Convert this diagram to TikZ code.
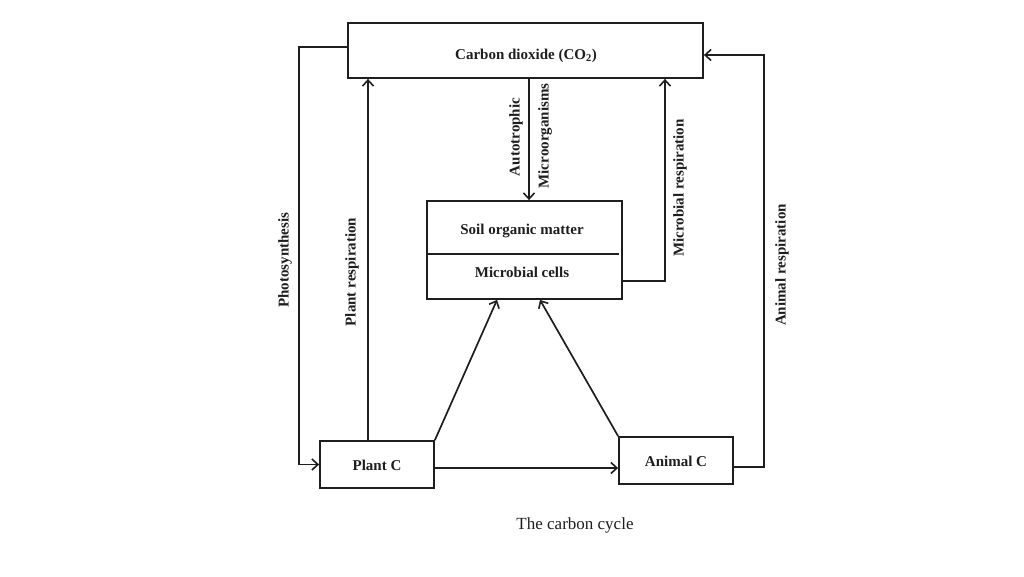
\documentclass[tikz,border=0pt]{standalone}
\usepackage{fontspec}
\setmainfont{Liberation Serif}
\usetikzlibrary{arrows.meta}
\definecolor{ink}{HTML}{1E1E1E}
\tikzset{
  box/.style={draw=ink, line width=1.8pt, rectangle, inner sep=0pt},
  lbl/.style={text=ink, font=\bfseries\fontsize{15}{17}\selectfont, inner sep=0pt},
  vlbl/.style={lbl, rotate=90},
  conn/.style={draw=ink, line width=1.7pt},
  arr/.style={conn, -{Straight Barb[length=6pt,width=11pt,line width=1.6pt]}}
}
\begin{document}
\begin{tikzpicture}[x=1pt,y=-1pt]
\useasboundingbox (0,0) rectangle (1024,576);
% boxes
\node[box, minimum width=355pt, minimum height=55pt] (co2) at (525.5,50.5) {};
\node[lbl] (co2t) at (526,56) {Carbon dioxide (CO\textsubscript{2})};
\node[box, minimum width=195pt, minimum height=98pt] (som) at (524.5,250) {};
\node[lbl] (somt) at (522,231) {Soil organic matter};
\node[lbl] (mct) at (522,272) {Microbial cells};
\node[box, minimum width=114pt, minimum height=47pt] (plant) at (377,464.5) {};
\node[lbl] (plantt) at (377,465) {Plant C};
\node[box, minimum width=114pt, minimum height=47pt] (animal) at (676,460.5) {};
\node[lbl] (animalt) at (676,461) {Animal C};
% divider
\draw[conn] ([yshift=-4pt]som.west) -- ([yshift=-4pt,xshift=-4pt]som.east);
% connectors
\draw[arr] ([yshift=3.5pt]co2.west) -- ++(-48,0) |- (plant.west);
\draw[arr] ([xshift=-9pt]plant.north) -- ([xshift=-9pt]plant.north |- co2.south);
\draw[arr] ([xshift=3.5pt]co2.south) -- ([xshift=4.5pt]som.north);
\draw[arr] ([yshift=-31pt]som.east) -| ([xshift=139.5pt]co2.south);
\draw[arr] ([yshift=-6.5pt]animal.east) -- ++(30,0) |- ([yshift=-4.5pt]co2.east);
\draw[arr] ([yshift=-3.5pt]plant.east) -- ([yshift=-7.5pt]animal.west);
\draw[arr] (plant.north east) -- ([xshift=-27.5pt]som.south);
\draw[arr] (animal.north west) -- ([xshift=15.5pt]som.south);
% labels
\node[vlbl] (l1) at (285,260) {Photosynthesis};
\node[vlbl] (l2) at (352,272) {Plant respiration};
\node[vlbl] (l3) at (516,137) {Autotrophic};
\node[vlbl] (l4) at (545,136) {Microorganisms};
\node[vlbl] (l5) at (680,188) {Microbial respiration};
\node[vlbl] (l6) at (782,265) {Animal respiration};
\node[text=ink, font=\fontsize{17}{20}\selectfont, inner sep=0pt] (cap) at (575,525) {The carbon cycle};
\end{tikzpicture}
\end{document}
